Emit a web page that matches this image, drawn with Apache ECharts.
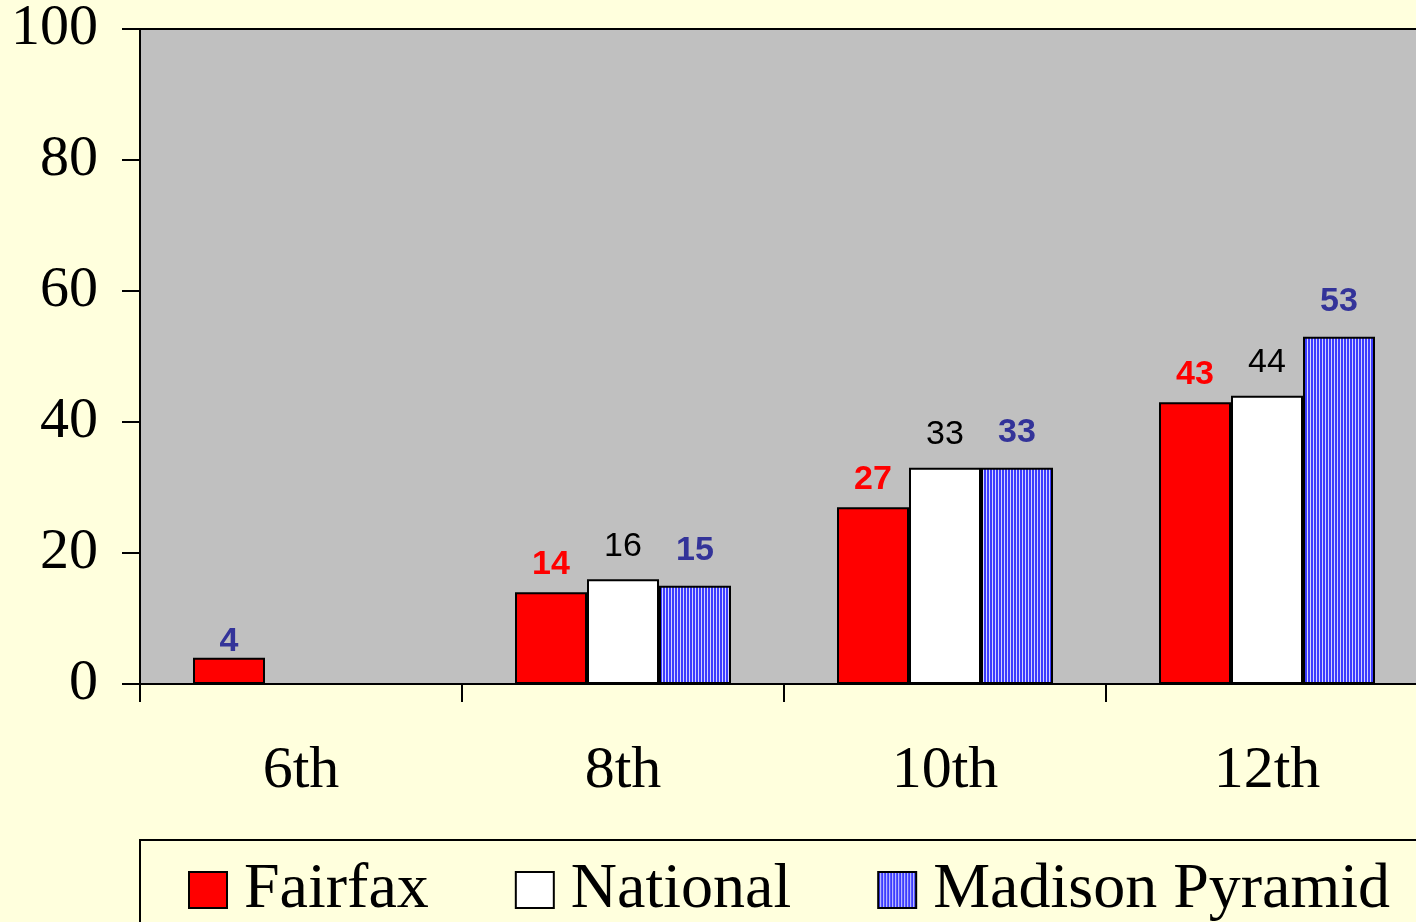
<!DOCTYPE html>
<html>
<head>
<meta charset="utf-8">
<script src="https://cdn.jsdelivr.net/npm/echarts@6/dist/echarts.min.js"></script>
<style>
  html, body { margin: 0; padding: 0; background: #ffffdd; overflow: hidden; }
  #chart { width: 1500px; height: 922px; }
</style>
</head>
<body>
<div id="chart"></div>
<script>
const grades = ["6th", "8th", "10th", "12th"];
const fairfax = [4, 14, 27, 43];
const national = [null, 16, 33, 44];
const madison = [null, 15, 33, 53];
const seriesNames = ["Fairfax", "National", "Madison Pyramid"];

// vertical stripe fill for the Madison bars
function stripes() {
  const c = document.createElement("canvas");
  c.width = 3;
  c.height = 8;
  const ctx = c.getContext("2d");
  ctx.fillStyle = "#3c3cff";
  ctx.fillRect(0, 0, 3, 8);
  ctx.fillStyle = "#d4d4ff";
  ctx.fillRect(2, 0, 1, 8);
  return c;
}

const serif = "'Liberation Serif', 'Times New Roman', serif";
const sans = "'Liberation Sans', Arial, sans-serif";

// the plot runs a bit past the right edge of the window, as in the original
const chart = echarts.init(document.getElementById("chart"));

function barSeries(name, data, fill, labelColor, bold, dist) {
  return {
    name,
    type: "bar",
    data,
    barWidth: 72,
    barGap: "0%",
    itemStyle: { color: fill, borderColor: "#000", borderWidth: 2 },
    label: {
      show: true,
      position: "top",
      distance: dist,
      fontFamily: sans,
      fontSize: 34,
      fontWeight: bold ? "bold" : "normal",
      color: labelColor,
    },
  };
}

chart.setOption({
  backgroundColor: "#ffffdd",
  animation: false,
  grid: {
    left: 140,
    right: 72,
    top: 28,
    bottom: 238,
    show: true,
    backgroundColor: "#c0c0c0",
    borderColor: "#000",
    borderWidth: 2,
  },
  legend: {
    left: 140,
    top: 840,
    padding: [18, 60, 40, 48],
    itemGap: 86,
    itemWidth: 38,
    itemHeight: 36,
    icon: "rect",
    borderColor: "#000",
    borderWidth: 2,
    backgroundColor: "#ffffdd",
    textStyle: { fontFamily: serif, fontSize: 64, color: "#000", padding: [0, 0, 0, 12] },
    data: seriesNames,
  },
  xAxis: {
    type: "category",
    data: grades,
    axisLine: { lineStyle: { color: "#000", width: 2 } },
    axisTick: { show: true, length: 18, lineStyle: { color: "#000", width: 2 } },
    axisLabel: { fontFamily: serif, fontSize: 60, color: "#000", margin: 57 },
  },
  yAxis: {
    type: "value",
    min: 0,
    max: 100,
    interval: 20,
    splitLine: { show: false },
    axisLine: { show: true, lineStyle: { color: "#000", width: 2 } },
    axisTick: { show: true, length: 18, lineStyle: { color: "#000", width: 2 } },
    axisLabel: { fontFamily: serif, fontSize: 58, color: "#000", margin: 42 },
  },
  series: [
    barSeries(
      seriesNames[0],
      fairfax.map((v, i) => (i === 0 ? { value: v, label: { color: "#333399", distance: -1 } } : v)),
      "#ff0000",
      "#ff0000",
      true,
      11
    ),
    barSeries(seriesNames[1], national, "#ffffff", "#000", false, 16),
    barSeries(seriesNames[2], madison, { image: stripes(), repeat: "repeat" }, "#333399", true, 18),
  ],
});
</script>
</body>
</html>
